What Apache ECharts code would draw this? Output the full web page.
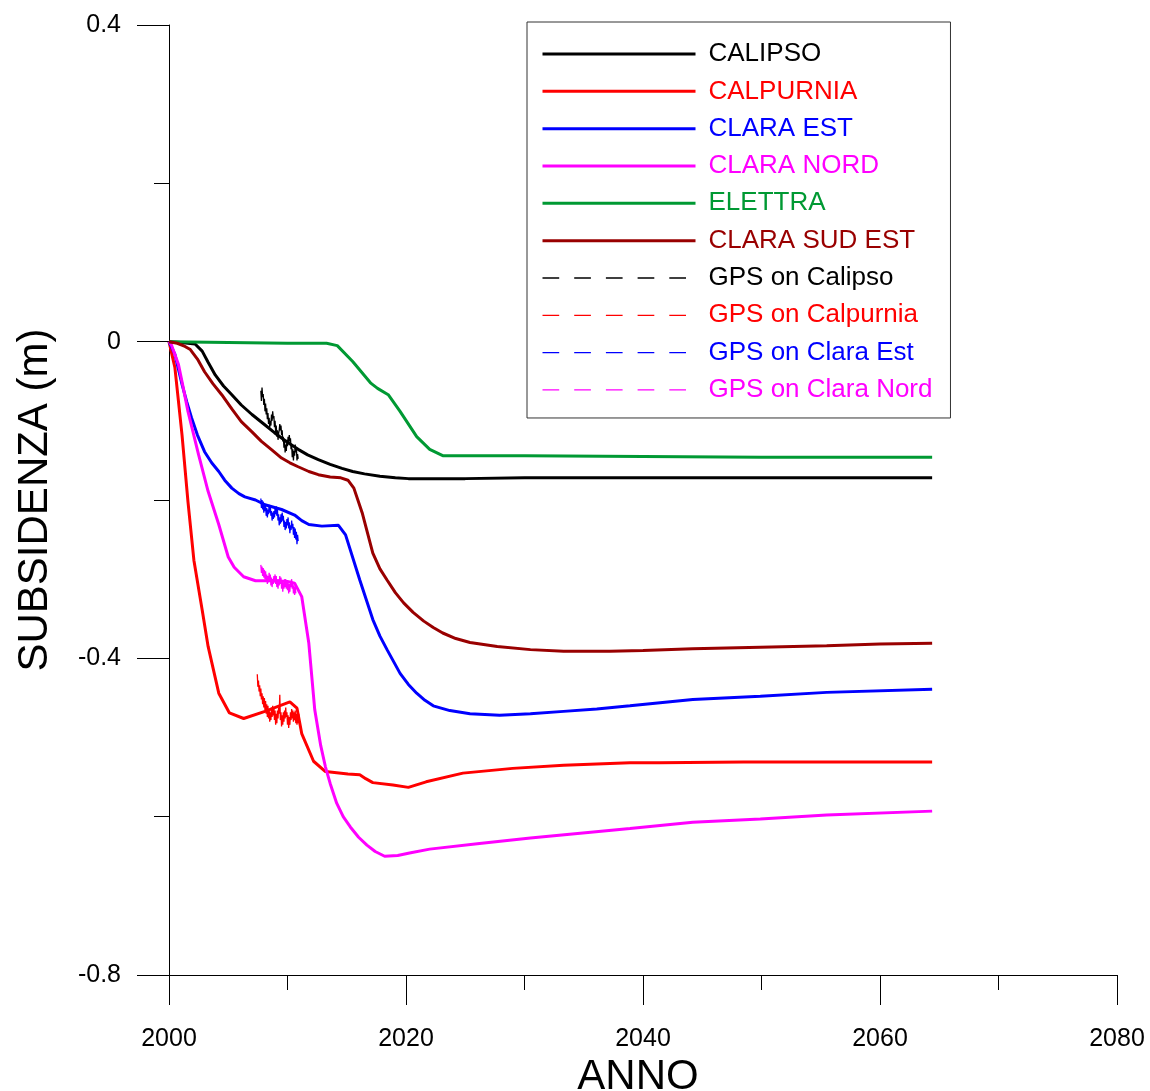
<!DOCTYPE html>
<html>
<head>
<meta charset="utf-8">
<script src="https://cdn.jsdelivr.net/npm/echarts@6/dist/echarts.min.js"></script>
<style>
html,body{margin:0;padding:0;background:#fff;}
#chart{width:1150px;height:1091px;}
</style>
</head>
<body>
<div id="chart"></div>
<script>
// ---------- DATA ----------
var seriesNames = ['CALIPSO','CALPURNIA','CLARA EST','CLARA NORD','ELETTRA','CLARA SUD EST',
  'GPS on Calipso','GPS on Calpurnia','GPS on Clara Est','GPS on Clara Nord'];
var xTickLabels = ['2000','2020','2040','2060','2080'];
var yTickLabels = ['-0.8','-0.4','0','0.4'];

var calipso = [[2000,0],[2001,-0.001],[2002.2,-0.003],[2002.8,-0.012],[2003.3,-0.026],[2003.9,-0.042],[2004.6,-0.056],[2005.3,-0.067],[2006.1,-0.08],[2007.0,-0.092],[2008.0,-0.104],[2008.9,-0.115],[2009.9,-0.126],[2010.9,-0.136],[2011.7,-0.143],[2012.6,-0.149],[2013.6,-0.155],[2014.6,-0.160],[2015.5,-0.164],[2016.5,-0.167],[2017.8,-0.170],[2019.1,-0.172],[2020.2,-0.173],[2025,-0.173],[2030,-0.172],[2040,-0.172],[2050,-0.172],[2064.4,-0.172]];

var calpurnia = [[2000,0],[2000.5,-0.033],[2001.1,-0.118],[2001.6,-0.202],[2002.1,-0.276],[2002.8,-0.339],[2003.3,-0.385],[2004.2,-0.444],[2005.1,-0.469],[2006.3,-0.476],[2008.1,-0.467],[2010.2,-0.455],[2010.8,-0.463],[2011.2,-0.495],[2012.2,-0.530],[2013.2,-0.543],[2015.1,-0.546],[2016.1,-0.547],[2016.6,-0.552],[2017.2,-0.557],[2018.9,-0.560],[2020.2,-0.563],[2021.7,-0.556],[2024.8,-0.545],[2029.0,-0.539],[2033.3,-0.535],[2038.9,-0.532],[2041.4,-0.532],[2048.5,-0.531],[2064.4,-0.531]];

var claraEst = [[2000,0],[2000.5,-0.016],[2001.1,-0.054],[2001.5,-0.076],[2001.9,-0.096],[2002.4,-0.118],[2003.0,-0.139],[2003.6,-0.153],[2004.2,-0.164],[2004.7,-0.175],[2005.3,-0.185],[2005.9,-0.192],[2006.4,-0.196],[2007.3,-0.200],[2008.1,-0.206],[2009.5,-0.212],[2010.6,-0.219],[2011.2,-0.226],[2011.8,-0.231],[2012.9,-0.233],[2014.3,-0.232],[2014.9,-0.244],[2016.1,-0.301],[2017.2,-0.351],[2017.8,-0.372],[2018.4,-0.389],[2019.5,-0.419],[2020.2,-0.433],[2020.9,-0.444],[2021.6,-0.453],[2022.3,-0.460],[2023.7,-0.466],[2025.4,-0.470],[2027.9,-0.472],[2030.5,-0.470],[2033.3,-0.467],[2036.1,-0.464],[2038.9,-0.460],[2044.2,-0.452],[2049.9,-0.448],[2055.5,-0.443],[2064.4,-0.439]];

var claraNord = [[2000,0],[2000.2,-0.004],[2000.8,-0.029],[2001.2,-0.058],[2001.6,-0.088],[2002.5,-0.143],[2003.3,-0.189],[2004.2,-0.231],[2005.0,-0.272],[2005.5,-0.285],[2006.3,-0.297],[2007.3,-0.302],[2008.9,-0.302],[2010.0,-0.303],[2010.6,-0.305],[2011.2,-0.322],[2011.8,-0.381],[2012.3,-0.465],[2012.8,-0.510],[2013.2,-0.537],[2013.6,-0.558],[2014.15,-0.583],[2014.7,-0.600],[2015.3,-0.613],[2016.0,-0.626],[2016.7,-0.636],[2017.4,-0.644],[2018.2,-0.650],[2019.3,-0.649],[2020.3,-0.646],[2022.0,-0.641],[2026.2,-0.634],[2030.5,-0.627],[2034.7,-0.621],[2038.9,-0.615],[2044.2,-0.607],[2049.9,-0.603],[2055.5,-0.598],[2064.4,-0.593]];

var elettra = [[2000,0],[2005,-0.001],[2010,-0.002],[2013.3,-0.002],[2014.2,-0.005],[2015.5,-0.025],[2017.0,-0.052],[2017.6,-0.059],[2018.5,-0.067],[2019.5,-0.088],[2020.9,-0.12],[2022.0,-0.136],[2023.1,-0.144],[2030,-0.144],[2040,-0.145],[2050,-0.146],[2064.4,-0.146]];

var claraSudEst = [[2000,0],[2000.7,-0.002],[2001.35,-0.006],[2001.8,-0.01],[2002.4,-0.022],[2003.0,-0.038],[2003.7,-0.053],[2004.45,-0.067],[2005.3,-0.085],[2006.1,-0.101],[2007.0,-0.114],[2007.8,-0.126],[2008.7,-0.137],[2009.5,-0.147],[2010.2,-0.153],[2010.9,-0.158],[2011.8,-0.164],[2012.6,-0.168],[2013.6,-0.171],[2014.5,-0.172],[2015.1,-0.175],[2015.6,-0.185],[2016.3,-0.216],[2017.2,-0.267],[2017.8,-0.287],[2018.4,-0.301],[2019.1,-0.317],[2019.8,-0.330],[2020.6,-0.342],[2021.5,-0.353],[2022.3,-0.361],[2023.1,-0.368],[2024.2,-0.375],[2025.4,-0.380],[2027.7,-0.385],[2030.5,-0.389],[2033.3,-0.391],[2037.2,-0.391],[2040,-0.390],[2044.2,-0.388],[2049.9,-0.386],[2055.5,-0.384],[2060,-0.382],[2064.4,-0.381]];

var gpsCalipso = [[2007.75,-0.062],[2007.8,-0.075],[2007.85,-0.058],[2007.9,-0.07],[2007.95,-0.066],[2008.0,-0.08],[2008.05,-0.072],[2008.1,-0.088],[2008.15,-0.078],[2008.2,-0.092],[2008.25,-0.084],[2008.3,-0.098],[2008.35,-0.09],[2008.4,-0.104],[2008.45,-0.096],[2008.5,-0.108],[2008.55,-0.1],[2008.6,-0.106],[2008.65,-0.092],[2008.7,-0.1],[2008.75,-0.088],[2008.8,-0.097],[2008.85,-0.094],[2008.9,-0.108],[2008.95,-0.1],[2009.0,-0.114],[2009.05,-0.106],[2009.1,-0.12],[2009.15,-0.112],[2009.2,-0.124],[2009.25,-0.116],[2009.3,-0.112],[2009.35,-0.104],[2009.4,-0.112],[2009.45,-0.106],[2009.5,-0.118],[2009.55,-0.112],[2009.6,-0.126],[2009.65,-0.12],[2009.7,-0.134],[2009.75,-0.126],[2009.8,-0.14],[2009.85,-0.13],[2009.9,-0.138],[2009.95,-0.124],[2010.0,-0.132],[2010.05,-0.12],[2010.1,-0.128],[2010.15,-0.118],[2010.2,-0.126],[2010.25,-0.122],[2010.3,-0.136],[2010.35,-0.13],[2010.4,-0.146],[2010.45,-0.136],[2010.5,-0.15],[2010.55,-0.138],[2010.6,-0.144],[2010.65,-0.13],[2010.7,-0.14],[2010.75,-0.134],[2010.8,-0.15],[2010.85,-0.142],[2010.9,-0.148]];

var gpsCalpurnia = [[2007.45,-0.42],[2007.5,-0.436],[2007.55,-0.428],[2007.6,-0.442],[2007.65,-0.434],[2007.7,-0.448],[2007.75,-0.438],[2007.8,-0.452],[2007.85,-0.444],[2007.9,-0.458],[2007.95,-0.448],[2008.0,-0.462],[2008.05,-0.45],[2008.1,-0.466],[2008.15,-0.454],[2008.2,-0.47],[2008.25,-0.458],[2008.3,-0.474],[2008.35,-0.46],[2008.4,-0.476],[2008.45,-0.464],[2008.5,-0.48],[2008.55,-0.468],[2008.6,-0.478],[2008.65,-0.462],[2008.7,-0.474],[2008.75,-0.46],[2008.8,-0.472],[2008.85,-0.462],[2008.9,-0.478],[2008.95,-0.466],[2009.0,-0.484],[2009.05,-0.47],[2009.1,-0.482],[2009.15,-0.466],[2009.2,-0.476],[2009.25,-0.462],[2009.3,-0.47],[2009.35,-0.446],[2009.4,-0.478],[2009.45,-0.468],[2009.5,-0.486],[2009.55,-0.472],[2009.6,-0.484],[2009.65,-0.468],[2009.7,-0.48],[2009.75,-0.466],[2009.8,-0.476],[2009.85,-0.462],[2009.9,-0.474],[2009.95,-0.468],[2010.0,-0.484],[2010.05,-0.472],[2010.1,-0.488],[2010.15,-0.474],[2010.2,-0.484],[2010.25,-0.468],[2010.3,-0.478],[2010.35,-0.464],[2010.4,-0.476],[2010.45,-0.466],[2010.5,-0.48],[2010.55,-0.468],[2010.6,-0.478],[2010.65,-0.466],[2010.7,-0.482],[2010.75,-0.47],[2010.8,-0.484],[2010.85,-0.472],[2010.9,-0.482],[2010.95,-0.47],[2011.0,-0.478]];

var gpsClaraEst = [[2007.75,-0.198],[2007.8,-0.21],[2007.85,-0.2],[2007.9,-0.212],[2007.95,-0.202],[2008.0,-0.216],[2008.05,-0.204],[2008.1,-0.214],[2008.15,-0.206],[2008.2,-0.22],[2008.25,-0.21],[2008.3,-0.222],[2008.35,-0.212],[2008.4,-0.218],[2008.45,-0.206],[2008.5,-0.216],[2008.55,-0.208],[2008.6,-0.22],[2008.65,-0.214],[2008.7,-0.226],[2008.75,-0.216],[2008.8,-0.224],[2008.85,-0.214],[2008.9,-0.222],[2008.95,-0.21],[2009.0,-0.218],[2009.05,-0.208],[2009.1,-0.22],[2009.15,-0.212],[2009.2,-0.226],[2009.25,-0.218],[2009.3,-0.232],[2009.35,-0.222],[2009.4,-0.23],[2009.45,-0.218],[2009.5,-0.228],[2009.55,-0.216],[2009.6,-0.226],[2009.65,-0.22],[2009.7,-0.234],[2009.75,-0.226],[2009.8,-0.238],[2009.85,-0.228],[2009.9,-0.236],[2009.95,-0.224],[2010.0,-0.232],[2010.05,-0.222],[2010.1,-0.236],[2010.15,-0.228],[2010.2,-0.242],[2010.25,-0.232],[2010.3,-0.238],[2010.35,-0.226],[2010.4,-0.236],[2010.45,-0.23],[2010.5,-0.244],[2010.55,-0.234],[2010.6,-0.248],[2010.65,-0.236],[2010.7,-0.25],[2010.75,-0.24],[2010.8,-0.256],[2010.85,-0.244],[2010.9,-0.252]];

var gpsClaraNord = [[2007.75,-0.282],[2007.8,-0.292],[2007.85,-0.284],[2007.9,-0.296],[2007.95,-0.286],[2008.0,-0.298],[2008.05,-0.288],[2008.1,-0.3],[2008.15,-0.29],[2008.2,-0.302],[2008.25,-0.294],[2008.3,-0.306],[2008.35,-0.296],[2008.4,-0.304],[2008.45,-0.292],[2008.5,-0.302],[2008.55,-0.294],[2008.6,-0.308],[2008.65,-0.298],[2008.7,-0.31],[2008.75,-0.3],[2008.8,-0.306],[2008.85,-0.296],[2008.9,-0.304],[2008.95,-0.294],[2009.0,-0.306],[2009.05,-0.296],[2009.1,-0.31],[2009.15,-0.3],[2009.2,-0.312],[2009.25,-0.3],[2009.3,-0.308],[2009.35,-0.296],[2009.4,-0.306],[2009.45,-0.298],[2009.5,-0.312],[2009.55,-0.302],[2009.6,-0.316],[2009.65,-0.304],[2009.7,-0.312],[2009.75,-0.3],[2009.8,-0.31],[2009.85,-0.3],[2009.9,-0.312],[2009.95,-0.302],[2010.0,-0.314],[2010.05,-0.304],[2010.1,-0.318],[2010.15,-0.306],[2010.2,-0.316],[2010.25,-0.302],[2010.3,-0.31],[2010.35,-0.3],[2010.4,-0.312],[2010.45,-0.304],[2010.5,-0.318],[2010.55,-0.308],[2010.6,-0.32],[2010.65,-0.31],[2010.7,-0.318]];

var seriesData = [calipso, calpurnia, claraEst, claraNord, elettra, claraSudEst,
  gpsCalipso, gpsCalpurnia, gpsClaraEst, gpsClaraNord];
var seriesColors = ['#000000','#ff0000','#0000ff','#ff00ff','#009933','#990000',
  '#000000','#ff0000','#0000ff','#ff00ff'];

// ---------- CHART ----------
var FONT = "'Liberation Sans', Arial, Helvetica, sans-serif";
var chart = echarts.init(document.getElementById('chart'), null, {renderer:'canvas'});

var series = seriesNames.map(function(n, i){
  var gps = i >= 6;
  return {
    name: n, type: 'line', data: seriesData[i], symbol: 'none', smooth: false,
    animation: false, z: gps ? 3 : 2,
    lineStyle: { color: seriesColors[i], width: gps ? 1.3 : 3 },
    itemStyle: { color: seriesColors[i] }
  };
});

var legendData = seriesNames.map(function(n, i){
  var gps = i >= 6;
  return {
    name: n,
    textStyle: { color: seriesColors[i] },
    lineStyle: gps ? { type: [16.7, 15], width: 1.3, color: seriesColors[i] } : { width: 3, color: seriesColors[i] },
    itemStyle: { opacity: 0 }
  };
});

chart.setOption({
  backgroundColor: '#ffffff',
  animation: false,
  grid: { left: 169, right: 33, top: 25, bottom: 116, containLabel: false, outerBoundsMode: 'none' },
  legend: {
    orient: 'vertical', left: 527, top: 22,
    padding: [19, 18, 15, 14],
    itemWidth: 153, itemHeight: 14, itemGap: 11.33,
    borderColor: '#333', borderWidth: 1, backgroundColor: '#fff',
    selectedMode: false,
    itemStyle: { opacity: 0 },
    textStyle: { fontFamily: FONT, fontSize: 26, lineHeight: 26, padding: [0, 0, 0, 8] },
    data: legendData
  },
  xAxis: {
    type: 'value', min: 2000, max: 2080, interval: 20,
    name: 'ANNO', nameLocation: 'middle', nameGap: 72,
    nameTextStyle: { fontFamily: FONT, fontSize: 42, color: '#000', padding: [0, 10, 0, 0] },
    axisLine: { show: true, onZero: false, lineStyle: { color: '#000', width: 1 } },
    axisTick: { show: true, inside: false, length: 30, lineStyle: { color: '#000' } },
    minorTick: { show: true, splitNumber: 2, length: 15, lineStyle: { color: '#000' } },
    splitLine: { show: false },
    axisLabel: { fontFamily: FONT, fontSize: 25, color: '#000', margin: 52,
      formatter: function(v){ var i = xTickLabels.indexOf(String(Math.round(v))); return i >= 0 ? xTickLabels[i] : ''; } }
  },
  yAxis: {
    type: 'value', min: -0.8, max: 0.4, interval: 0.4,
    name: 'SUBSIDENZA (m)', nameLocation: 'middle', nameGap: 113,
    nameTextStyle: { fontFamily: FONT, fontSize: 42, color: '#000' },
    axisLine: { show: true, onZero: false, lineStyle: { color: '#000', width: 1 } },
    axisTick: { show: true, inside: false, length: 32, lineStyle: { color: '#000' } },
    minorTick: { show: true, splitNumber: 2, length: 15, lineStyle: { color: '#000' } },
    splitLine: { show: false },
    axisLabel: { fontFamily: FONT, fontSize: 25, color: '#000', margin: 48, padding: [5, 0, 0, 0],
      formatter: function(v){ var s = (Math.round(v*10)/10).toString(); var i = yTickLabels.indexOf(s); return i >= 0 ? yTickLabels[i] : s; } }
  },
  series: series
});
</script>
</body>
</html>
